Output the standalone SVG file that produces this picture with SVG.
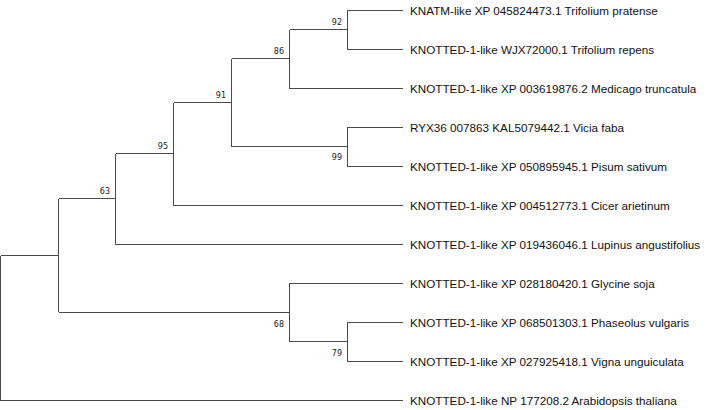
<svg xmlns="http://www.w3.org/2000/svg" width="708" height="410" viewBox="0 0 708 410">
<style>
.br{stroke:#4a4a4a;stroke-width:1;fill:none;shape-rendering:crispEdges}
.lf{font-family:"Liberation Sans",Arial,sans-serif;font-size:11.7px;fill:#111}
.bs{font-family:"DejaVu Sans",Verdana,sans-serif;font-size:8px;fill:#222;text-anchor:end}
</style>
<rect width="708" height="410" fill="#fff"/>
<g id="connectors">
<path class="br" d="M0.5 255.6V400.5H403"/>
<path class="br" d="M0.5 255.6H58.5V198.9M58.5 255.6V312.3"/>
<path class="br" d="M58.5 198.9H115.5V153.8M115.5 198.9V244.5H403"/>
<path class="br" d="M115.5 153.8H173.5V102.6M173.5 153.8V205.5H403"/>
<path class="br" d="M173.5 102.6H231.5V58.8M231.5 102.6V146.5"/>
<path class="br" d="M231.5 58.8H289.5V29.5M289.5 58.8V88.5H403"/>
<path class="br" d="M289.5 29.5H347.5V10.5H403M347.5 29.5V49.5H403"/>
<path class="br" d="M231.5 146.5H347.5V127.5H403M347.5 146.5V166.5H403"/>
<path class="br" d="M58.5 312.3H289.5V283.5H403M289.5 312.3V341.5"/>
<path class="br" d="M289.5 341.5H347.5V322.5H403M347.5 341.5V361.5H403"/>
</g>
<g id="bootstrap">
<text class="bs" x="342" y="25">92</text>
<text class="bs" x="284" y="54">86</text>
<text class="bs" x="226" y="98">91</text>
<text class="bs" x="168" y="149">95</text>
<text class="bs" x="110" y="194">63</text>
<text class="bs" x="342" y="160">99</text>
<text class="bs" x="284" y="327">68</text>
<text class="bs" x="342" y="355.5">79</text>
</g>
<g id="leaf1"><text class="lf" x="410" y="14.5">KNATM-like XP 045824473.1 Trifolium pratense</text></g>
<g id="leaf2"><text class="lf" x="410" y="53.5">KNOTTED-1-like WJX72000.1 Trifolium repens</text></g>
<g id="leaf3"><text class="lf" x="410" y="92.5">KNOTTED-1-like XP 003619876.2 Medicago truncatula</text></g>
<g id="leaf4"><text class="lf" x="410" y="131.5">RYX36 007863 KAL5079442.1 Vicia faba</text></g>
<g id="leaf5"><text class="lf" x="410" y="170.5">KNOTTED-1-like XP 050895945.1 Pisum sativum</text></g>
<g id="leaf6"><text class="lf" x="410" y="209.5">KNOTTED-1-like XP 004512773.1 Cicer arietinum</text></g>
<g id="leaf7"><text class="lf" x="410" y="248.5">KNOTTED-1-like XP 019436046.1 Lupinus angustifolius</text></g>
<g id="leaf8"><text class="lf" x="410" y="287.5">KNOTTED-1-like XP 028180420.1 Glycine soja</text></g>
<g id="leaf9"><text class="lf" x="410" y="326.5">KNOTTED-1-like XP 068501303.1 Phaseolus vulgaris</text></g>
<g id="leaf10"><text class="lf" x="410" y="365.5">KNOTTED-1-like XP 027925418.1 Vigna unguiculata</text></g>
<g id="leaf11"><text class="lf" x="410" y="404.5">KNOTTED-1-like NP 177208.2 Arabidopsis thaliana</text></g>
</svg>
